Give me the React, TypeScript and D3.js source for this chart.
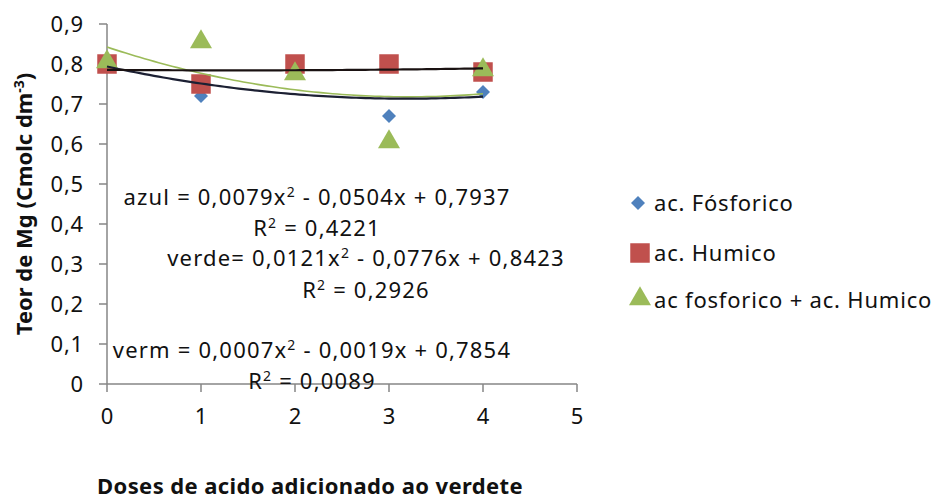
import React, { useEffect, useRef } from "react";
import * as d3 from "d3";

const doses = [0, 1, 2, 3, 4];
const fosforico = [0.8, 0.72, 0.78, 0.67, 0.73];
const humico = [0.8, 0.75, 0.8, 0.8, 0.78];
const fosfHumico = [0.8, 0.85, 0.77, 0.6, 0.78];
const seriesNames = ["ac. Fósforico", "ac. Humico", "ac fosforico + ac. Humico"];
// trendline coefficients [a, b, c] for a*x^2 + b*x + c
const trendAzul = [0.0079, -0.0504, 0.7937];
const trendVerm = [0.0007, -0.0019, 0.7854];
const trendVerde = [0.0121, -0.0776, 0.8423];
const yTicks = [0, 0.1, 0.2, 0.3, 0.4, 0.5, 0.6, 0.7, 0.8, 0.9];
const xTicks = [0, 1, 2, 3, 4, 5];

const FONT = "'Noto Sans', 'Open Sans', sans-serif";

const App = () => {
  const svgRef = useRef<SVGSVGElement>(null);

  useEffect(() => {
    const svg = d3.select(svgRef.current);
    svg.selectAll("*").remove();

    const x = d3.scaleLinear().domain([0, 5]).range([107, 577]);
    const y = d3.scaleLinear().domain([0, 0.9]).range([384, 24]);
    const axisColor = "#868686";

    // y axis
    const yAxis = svg.append("g").attr("transform", "translate(107,0)");
    yAxis.append("line").attr("y1", y(0.9)).attr("y2", y(0)).attr("stroke", axisColor).attr("stroke-width", 1.5);
    yTicks.forEach((t) => {
      yAxis.append("line").attr("x1", -8).attr("x2", 0).attr("y1", y(t)).attr("y2", y(t))
        .attr("stroke", axisColor).attr("stroke-width", 1.5);
      yAxis.append("text").attr("x", -23).attr("y", y(t)).attr("dy", "0.36em")
        .attr("text-anchor", "end").attr("font-size", 22).attr("letter-spacing", 0.8)
        .attr("font-family", FONT).attr("fill", "#111")
        .text(t === 0 ? "0" : d3.format(".1f")(t).replace(".", ","));
    });

    // x axis
    const xAxis = svg.append("g").attr("transform", "translate(0,384)");
    xAxis.append("line").attr("x1", x(0)).attr("x2", x(5)).attr("stroke", axisColor).attr("stroke-width", 1.5);
    xTicks.forEach((t) => {
      xAxis.append("line").attr("x1", x(t)).attr("x2", x(t)).attr("y1", 0).attr("y2", 8)
        .attr("stroke", axisColor).attr("stroke-width", 1.5);
      xAxis.append("text").attr("x", x(t)).attr("y", 40).attr("text-anchor", "middle")
        .attr("font-size", 22).attr("font-family", FONT).attr("fill", "#111").text(t);
    });

    const diamond = d3.symbol().type(d3.symbolDiamond2).size(125);
    const square = d3.symbol().type(d3.symbolSquare).size(380);
    const triangle = d3.symbol().type(d3.symbolTriangle).size(210);

    const series = [
      { values: fosforico, color: "#4F81BD", sym: diamond, dy: 0 },
      { values: humico, color: "#C0504D", sym: square, dy: 0 },
      { values: fosfHumico, color: "#9BBB59", sym: triangle, dy: -2 },
    ];
    series.forEach((s) => {
      svg.append("g").selectAll("path").data(s.values).join("path")
        .attr("d", s.sym() as string)
        .attr("transform", (v, i) => `translate(${x(doses[i])},${y(v) + s.dy})`)
        .attr("fill", s.color);
    });

    // trendlines
    const xs = d3.range(0, 4.0001, 0.05);
    const poly = (c: number[]) => (t: number) => c[0] * t * t + c[1] * t + c[2];
    const line = d3.line<number>().x((t) => x(t));
    const trends = [
      { c: trendVerde, color: "#9BBB59", w: 1.6 },
      { c: trendAzul, color: "#1c2033", w: 2.2 },
      { c: trendVerm, color: "#1a1212", w: 2.2 },
    ];
    trends.forEach((tr) => {
      const f = poly(tr.c);
      svg.append("path").attr("d", line.y((t) => y(f(t)))(xs) as string)
        .attr("fill", "none").attr("stroke", tr.color).attr("stroke-width", tr.w);
    });

    // equations (two centred lines each)
    const eqs = [
      { cx: 317, y: 205, parts: ["azul = 0,0079x", "2", " - 0,0504x + 0,7937"] },
      { cx: 317, y: 236, parts: ["R", "2", " = 0,4221"] },
      { cx: 366, y: 266, parts: ["verde= 0,0121x", "2", " - 0,0776x + 0,8423"] },
      { cx: 366, y: 298, parts: ["R", "2", " = 0,2926"] },
      { cx: 312, y: 358, parts: ["verm = 0,0007x", "2", " - 0,0019x + 0,7854"] },
      { cx: 312, y: 389, parts: ["R", "2", " = 0,0089"] },
    ];
    eqs.forEach((e) => {
      const t = svg.append("text").attr("x", e.cx).attr("y", e.y).attr("text-anchor", "middle")
        .attr("font-size", 22).attr("letter-spacing", 1.2).attr("font-family", FONT).attr("fill", "#111");
      t.append("tspan").text(e.parts[0]);
      t.append("tspan").attr("dy", -8).attr("font-size", 14).text(e.parts[1]);
      t.append("tspan").attr("dy", 8).text(e.parts[2]);
    });

    // legend
    const legY = [203, 253, 300];
    series.forEach((s, i) => {
      const g = svg.append("g").attr("transform", `translate(0,${legY[i]})`);
      g.append("path").attr("d", s.sym() as string)
        .attr("transform", `translate(${i === 0 ? 638 : 640},${i === 2 ? -1 : 0})`)
        .attr("fill", s.color);
      g.append("text").attr("x", 654).attr("dy", "0.36em").attr("font-size", 22)
        .attr("letter-spacing", 0.8).attr("font-family", FONT).attr("fill", "#111").text(seriesNames[i]);
    });

    // axis titles
    const yt = svg.append("text").attr("transform", "translate(32,204) rotate(-90)")
      .attr("text-anchor", "middle").attr("font-size", 22).attr("font-weight", "bold")
      .attr("font-family", FONT).attr("fill", "#111");
    yt.append("tspan").text("Teor de Mg (Cmolc dm");
    yt.append("tspan").attr("dy", -8).attr("font-size", 14).text("-3");
    yt.append("tspan").attr("dy", 8).text(")");

    svg.append("text").attr("x", 97).attr("y", 494).attr("font-size", 22).attr("font-weight", "bold")
      .attr("letter-spacing", 0.4).attr("font-family", FONT).attr("fill", "#111")
      .text("Doses de acido adicionado ao verdete");
  }, []);

  return (
    <svg ref={svgRef} width={936} height={499}
      style={{ position: "absolute", left: 0, top: 0, background: "#fff" }} />
  );
};

export default App;
